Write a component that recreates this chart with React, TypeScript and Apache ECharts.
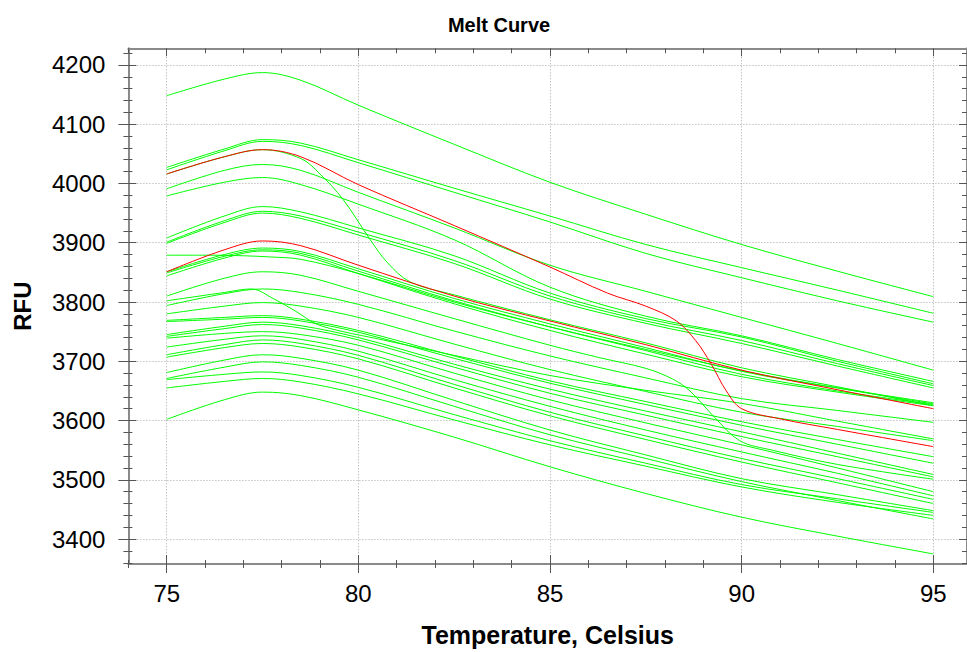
import React, { useEffect, useRef } from "react";
import * as echarts from "echarts";

// ---- axis ranges & ticks ----
const X_MIN = 74;
const X_MAX = 95.88;
const Y_MIN = 3358;
const Y_MAX = 4228;
const X_MAJOR = [75, 80, 85, 90, 95];
const X_MINOR = [74, 75, 76, 77, 78, 79, 80, 81, 82, 83, 84, 85, 86, 87, 88, 89, 90, 91, 92, 93, 94, 95];
const Y_MAJOR = [3400, 3500, 3600, 3700, 3800, 3900, 4000, 4100, 4200];
const Y_MINOR = [3360, 3380, 3400, 3420, 3440, 3460, 3480, 3500, 3520, 3540, 3560, 3580, 3600, 3620, 3640, 3660, 3680, 3700, 3720, 3740, 3760, 3780, 3800, 3820, 3840, 3860, 3880, 3900, 3920, 3940, 3960, 3980, 4000, 4020, 4040, 4060, 4080, 4100, 4120, 4140, 4160, 4180, 4200, 4220];

// ---- temperatures (Celsius) ----
const T_STD = [75, 76.5, 77.5, 78.5, 80, 82.5, 85, 87.5, 90, 92.5, 95];
const T_RED1 = [75, 76.5, 77.5, 78.5, 80, 82.5, 85, 86.5, 87.5, 88.3, 88.8, 89.2, 89.6, 90, 91, 92.5, 95];
const T_DROP1 = [75, 76.5, 77.5, 78.5, 79, 79.6, 80.3, 80.75, 81.35, 82.5, 85, 87.5, 90, 92.5, 95];
const T_DROP2 = [75, 76.5, 77.5, 78.5, 80, 82.5, 85, 86.3, 87.5, 88.2, 88.65, 89.3, 89.95, 90.8, 92.5, 95];
const T_FLAT = [75, 76, 77, 77.7, 78.5, 80, 82.5, 85, 87.5, 90, 92.5, 95];
const T_CROSS = [75, 76.5, 77.2, 77.8, 78.4, 78.9, 79.6, 80.5, 82.5, 85, 87.5, 90, 92.5, 95];

// ---- RFU values ----
const red1 = [4016, 4045, 4057, 4045, 3998, 3929, 3859, 3815, 3793, 3768, 3735, 3696, 3650, 3620, 3603, 3585, 3556];
const red2 = [3851, 3888, 3903, 3895, 3862, 3810, 3768, 3728, 3685, 3652, 3620];
const drop1 = [4016, 4045, 4057, 4042, 4016, 3973, 3906, 3867, 3834, 3812, 3770, 3731, 3689, 3657, 3625];
const drop2 = [3810, 3840, 3851, 3845, 3818, 3772, 3727, 3706, 3688, 3670, 3650, 3605, 3566, 3550, 3526, 3501];
const flat1 = [3879, 3879, 3878, 3876, 3872, 3848, 3800, 3758, 3720, 3684, 3655, 3628];
const cross1 = [3802, 3816, 3822, 3805, 3783, 3763, 3750, 3738, 3710, 3676, 3651, 3629, 3599, 3569];
const g01 = [4148, 4176, 4187, 4174, 4132, 4066, 4002, 3948, 3897, 3852, 3809];
const g02 = [4027, 4058, 4074, 4068, 4040, 3992, 3945, 3897, 3858, 3820, 3781];
const g03 = [4023, 4055, 4071, 4064, 4035, 3985, 3935, 3882, 3841, 3802, 3766];
const g06 = [3991, 4022, 4032, 4022, 3985, 3925, 3862, 3818, 3774, 3730, 3685];
const g07 = [3979, 4002, 4010, 3998, 3965, 3905, 3825, 3776, 3743, 3703, 3666];
const g08 = [3908, 3945, 3961, 3952, 3925, 3878, 3815, 3772, 3741, 3700, 3662];
const g09 = [3901, 3937, 3953, 3945, 3918, 3870, 3810, 3768, 3735, 3696, 3659];
const g10 = [3899, 3934, 3950, 3941, 3913, 3865, 3805, 3764, 3730, 3692, 3655];
const g12 = [3851, 3880, 3891, 3885, 3856, 3806, 3763, 3723, 3683, 3655, 3630];
const g13 = [3849, 3877, 3888, 3882, 3852, 3802, 3758, 3718, 3678, 3650, 3627];
const g14 = [3844, 3874, 3886, 3879, 3848, 3797, 3752, 3712, 3674, 3648, 3625];
const g16 = [3794, 3814, 3822, 3816, 3796, 3751, 3709, 3672, 3637, 3617, 3597];
const g19 = [3780, 3793, 3799, 3793, 3774, 3729, 3686, 3649, 3614, 3590, 3566];
const g20 = [3769, 3774, 3777, 3771, 3752, 3709, 3667, 3632, 3598, 3568, 3539];
const g21 = [3767, 3771, 3774, 3768, 3749, 3705, 3663, 3627, 3592, 3560, 3528];
const g22 = [3745, 3759, 3766, 3760, 3740, 3695, 3653, 3616, 3581, 3545, 3509];
const g23 = [3742, 3755, 3762, 3756, 3736, 3690, 3646, 3609, 3573, 3539, 3505];
const g24 = [3739, 3747, 3750, 3745, 3727, 3680, 3635, 3596, 3559, 3520, 3480];
const g25 = [3724, 3737, 3743, 3737, 3717, 3669, 3624, 3584, 3547, 3511, 3473];
const g26 = [3711, 3728, 3736, 3730, 3710, 3661, 3614, 3574, 3536, 3502, 3467];
const g27 = [3707, 3723, 3730, 3724, 3704, 3655, 3608, 3568, 3530, 3495, 3460];
const g28 = [3681, 3702, 3711, 3705, 3685, 3634, 3584, 3542, 3502, 3475, 3448];
const g29 = [3671, 3690, 3699, 3693, 3673, 3624, 3576, 3536, 3497, 3465, 3434];
const g30 = [3669, 3678, 3682, 3676, 3656, 3610, 3566, 3528, 3492, 3468, 3445];
const g31 = [3655, 3666, 3671, 3665, 3645, 3601, 3559, 3523, 3488, 3462, 3440];
const g32 = [3602, 3635, 3648, 3642, 3618, 3572, 3522, 3477, 3437, 3405, 3375];

const GREEN_CURVES: [number[], number[]][] = [
  [T_STD, g01], [T_STD, g02], [T_STD, g03], [T_DROP1, drop1], [T_STD, g06], [T_STD, g07],
  [T_STD, g08], [T_STD, g09], [T_STD, g10], [T_FLAT, flat1], [T_STD, g12], [T_STD, g13],
  [T_STD, g14], [T_DROP2, drop2], [T_STD, g16], [T_CROSS, cross1], [T_STD, g19], [T_STD, g20],
  [T_STD, g21], [T_STD, g22], [T_STD, g23], [T_STD, g24], [T_STD, g25], [T_STD, g26],
  [T_STD, g27], [T_STD, g28], [T_STD, g29], [T_STD, g30], [T_STD, g31], [T_STD, g32],
];
const RED_CURVES: [number[], number[]][] = [[T_RED1, red1], [T_STD, red2]];

const FONT = "'Liberation Sans', Arial, Helvetica, sans-serif";
const AXIS_GRAY = "#8a8a8a";
const TICK_GRAY = "#555555";

function pairs(t: number[], v: number[]) {
  return t.map((x, i) => [x, v[i]]);
}

export default function App() {
  const ref = useRef<HTMLDivElement>(null);
  useEffect(() => {
    if (!ref.current) return;
    const chart = echarts.init(ref.current, undefined, { renderer: "svg" });

    const hidden = {
      axisLine: { show: false },
      axisLabel: { show: false },
      splitLine: { show: false },
    };
    const xBase = { type: "value", min: X_MIN, max: X_MAX, gridIndex: 0 };
    const yBase = { type: "value", min: Y_MIN, max: Y_MAX, gridIndex: 0 };
    const tick = (vals: number[], len: number, inside: boolean) => ({
      show: true,
      customValues: vals,
      length: len,
      inside,
      lineStyle: { color: TICK_GRAY, width: 1 },
    });
    const plain = (v: number) => String(v);

    const xAxis: any[] = [
      {
        ...xBase,
        position: "bottom",
        axisLine: { show: true, lineStyle: { color: AXIS_GRAY, width: 2 } },
        axisTick: tick(X_MAJOR, 9, false),
        axisLabel: { show: true, customValues: X_MAJOR, formatter: plain, fontSize: 24, color: "#000", fontFamily: FONT, margin: 17 },
        splitLine: { show: true, lineStyle: { color: "#a8a8a8", width: 1, type: [1, 2] } },
        name: "Temperature, Celsius",
        nameLocation: "middle",
        nameGap: 58,
        nameTextStyle: { fontSize: 25, fontWeight: "bold", color: "#000", fontFamily: FONT },
      },
      { ...xBase, ...hidden, position: "bottom", axisTick: tick(X_MAJOR, 9, true) },
      { ...xBase, ...hidden, position: "bottom", axisTick: tick(X_MINOR, 4, false) },
      { ...xBase, ...hidden, position: "bottom", axisTick: tick(X_MINOR, 4, true) },
      {
        ...xBase,
        ...hidden,
        position: "top",
        axisLine: { show: true, lineStyle: { color: AXIS_GRAY, width: 2 } },
        axisTick: tick(X_MINOR, 5, true),
      },
      { ...xBase, ...hidden, position: "top", axisTick: tick(X_MAJOR, 8, true) },
    ];

    const yAxis: any[] = [
      {
        ...yBase,
        position: "left",
        axisLine: { show: true, lineStyle: { color: AXIS_GRAY, width: 2 } },
        axisTick: tick(Y_MAJOR, 10, false),
        axisLabel: { show: true, customValues: Y_MAJOR, formatter: plain, fontSize: 24, color: "#000", fontFamily: FONT, margin: 23 },
        splitLine: { show: true, lineStyle: { color: "#a8a8a8", width: 1, type: [1, 2] } },
        name: "RFU",
        nameLocation: "middle",
        nameGap: 94,
        nameTextStyle: { fontSize: 24, fontWeight: "bold", color: "#000", fontFamily: FONT },
      },
      { ...yBase, ...hidden, position: "left", axisTick: tick(Y_MAJOR, 8, true) },
      { ...yBase, ...hidden, position: "left", axisTick: tick(Y_MINOR, 5, false) },
      { ...yBase, ...hidden, position: "left", axisTick: tick(Y_MINOR, 4, true) },
      {
        ...yBase,
        ...hidden,
        position: "right",
        axisLine: { show: true, lineStyle: { color: AXIS_GRAY, width: 2 } },
        axisTick: tick(Y_MINOR, 5, true),
      },
      { ...yBase, ...hidden, position: "right", axisTick: tick(Y_MAJOR, 8, true) },
    ];

    const mk = (c: [number[], number[]], color: string, z: number) => ({
      type: "line",
      xAxisIndex: 0,
      yAxisIndex: 0,
      data: pairs(c[0], c[1]),
      showSymbol: false,
      symbol: "none",
      smooth: 0.35,
      lineStyle: { color, width: 1 },
      itemStyle: { color },
      z,
      silent: true,
    });

    chart.setOption({
      animation: false,
      backgroundColor: "#ffffff",
      title: {
        text: "Melt Curve",
        left: 494,
        textAlign: "center",
        top: 10,
        textStyle: { fontSize: 20, fontWeight: "bold", color: "#000", fontFamily: FONT },
      },
      grid: { left: 128.4, top: 48.3, width: 838.6, height: 517.4, containLabel: false },
      xAxis,
      yAxis,
      series: [
        ...GREEN_CURVES.map((c) => mk(c, "#00ff00", 2)),
        ...RED_CURVES.map((c) => mk(c, "#ff0000", 3)),
      ],
    });
    return () => chart.dispose();
  }, []);

  return (
    <div
      ref={ref}
      style={{ position: "fixed", left: 0, top: 0, width: 967, height: 652, background: "#fff" }}
    />
  );
}
